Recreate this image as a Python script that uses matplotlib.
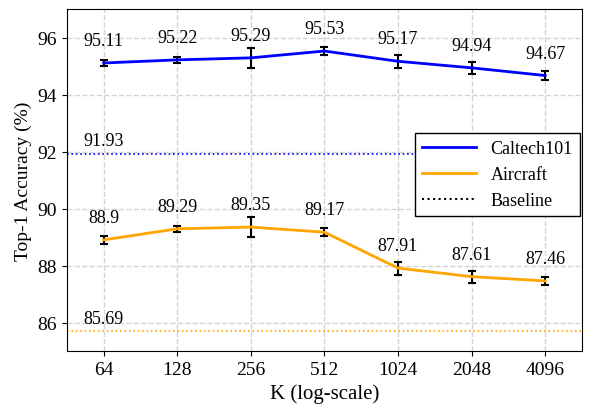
import matplotlib
matplotlib.use('Agg')
import matplotlib.pyplot as plt
from matplotlib.lines import Line2D
import numpy as np

plt.rcParams['font.family'] = ['Liberation Serif', 'DejaVu Serif']

k_values = [64, 128, 256, 512, 1024, 2048, 4096]
caltech_acc = [95.11, 95.22, 95.29, 95.53, 95.17, 94.94, 94.67]
caltech_err = [0.11, 0.10, 0.34, 0.14, 0.23, 0.20, 0.15]
aircraft_acc = [88.9, 89.29, 89.35, 89.17, 87.91, 87.61, 87.46]
aircraft_err = [0.14, 0.11, 0.35, 0.15, 0.23, 0.21, 0.15]
caltech_base = 91.93
aircraft_base = 85.69

fig, ax = plt.subplots(figsize=(5.92, 4.06), dpi=100)
fig.subplots_adjust(left=0.113, right=0.983, top=0.975, bottom=0.133)

ax.errorbar(k_values, caltech_acc, yerr=caltech_err, color='blue', lw=2,
            ecolor='black', elinewidth=1.5, capsize=3, capthick=1.5, zorder=3)
ax.errorbar(k_values, aircraft_acc, yerr=aircraft_err, color='orange', lw=2,
            ecolor='black', elinewidth=1.5, capsize=3, capthick=1.5, zorder=3)
ax.axhline(caltech_base, color='blue', ls=':', lw=1.2)
ax.axhline(aircraft_base, color='orange', ls=':', lw=1.2)

for x, y in zip(k_values, caltech_acc):
    ax.annotate(f'{y}', (x, y), xytext=(0, 10), textcoords='offset points',
                ha='center', va='bottom', fontsize=13)
for x, y in zip(k_values, aircraft_acc):
    ax.annotate(f'{y}', (x, y), xytext=(0, 10), textcoords='offset points',
                ha='center', va='bottom', fontsize=13)
ax.annotate(f'{caltech_base}', (k_values[0], caltech_base), xytext=(0, 3),
            textcoords='offset points', ha='center', va='bottom', fontsize=13)
ax.annotate(f'{aircraft_base}', (k_values[0], aircraft_base), xytext=(0, 3),
            textcoords='offset points', ha='center', va='bottom', fontsize=13)

ax.set_xscale('log', base=2)
ax.set_xticks(k_values)
ax.set_xticklabels([str(k) for k in k_values])
ax.minorticks_off()
ax.set_xlim(k_values[0] / np.sqrt(2), k_values[-1] * np.sqrt(2))
ax.set_ylim(85, 97)
ax.set_yticks([86, 88, 90, 92, 94, 96])
ax.tick_params(labelsize=14)
ax.set_xlabel('K (log-scale)', fontsize=15)
ax.set_ylabel('Top-1 Accuracy (%)', fontsize=14)
ax.grid(True, ls='--', color='lightgray', lw=1)
ax.set_axisbelow(True)

handles = [Line2D([], [], color='blue', lw=2),
           Line2D([], [], color='orange', lw=2),
           Line2D([], [], color='black', ls=':', lw=1.5)]
ax.legend(handles, ['Caltech101', 'Aircraft', 'Baseline'], loc='center right',
          bbox_to_anchor=(1.0, 0.516), borderaxespad=0.1,
          fontsize=13, handlelength=3.0, fancybox=False, edgecolor='black',
          framealpha=1)

plt.savefig('out.png')
plt.close()
